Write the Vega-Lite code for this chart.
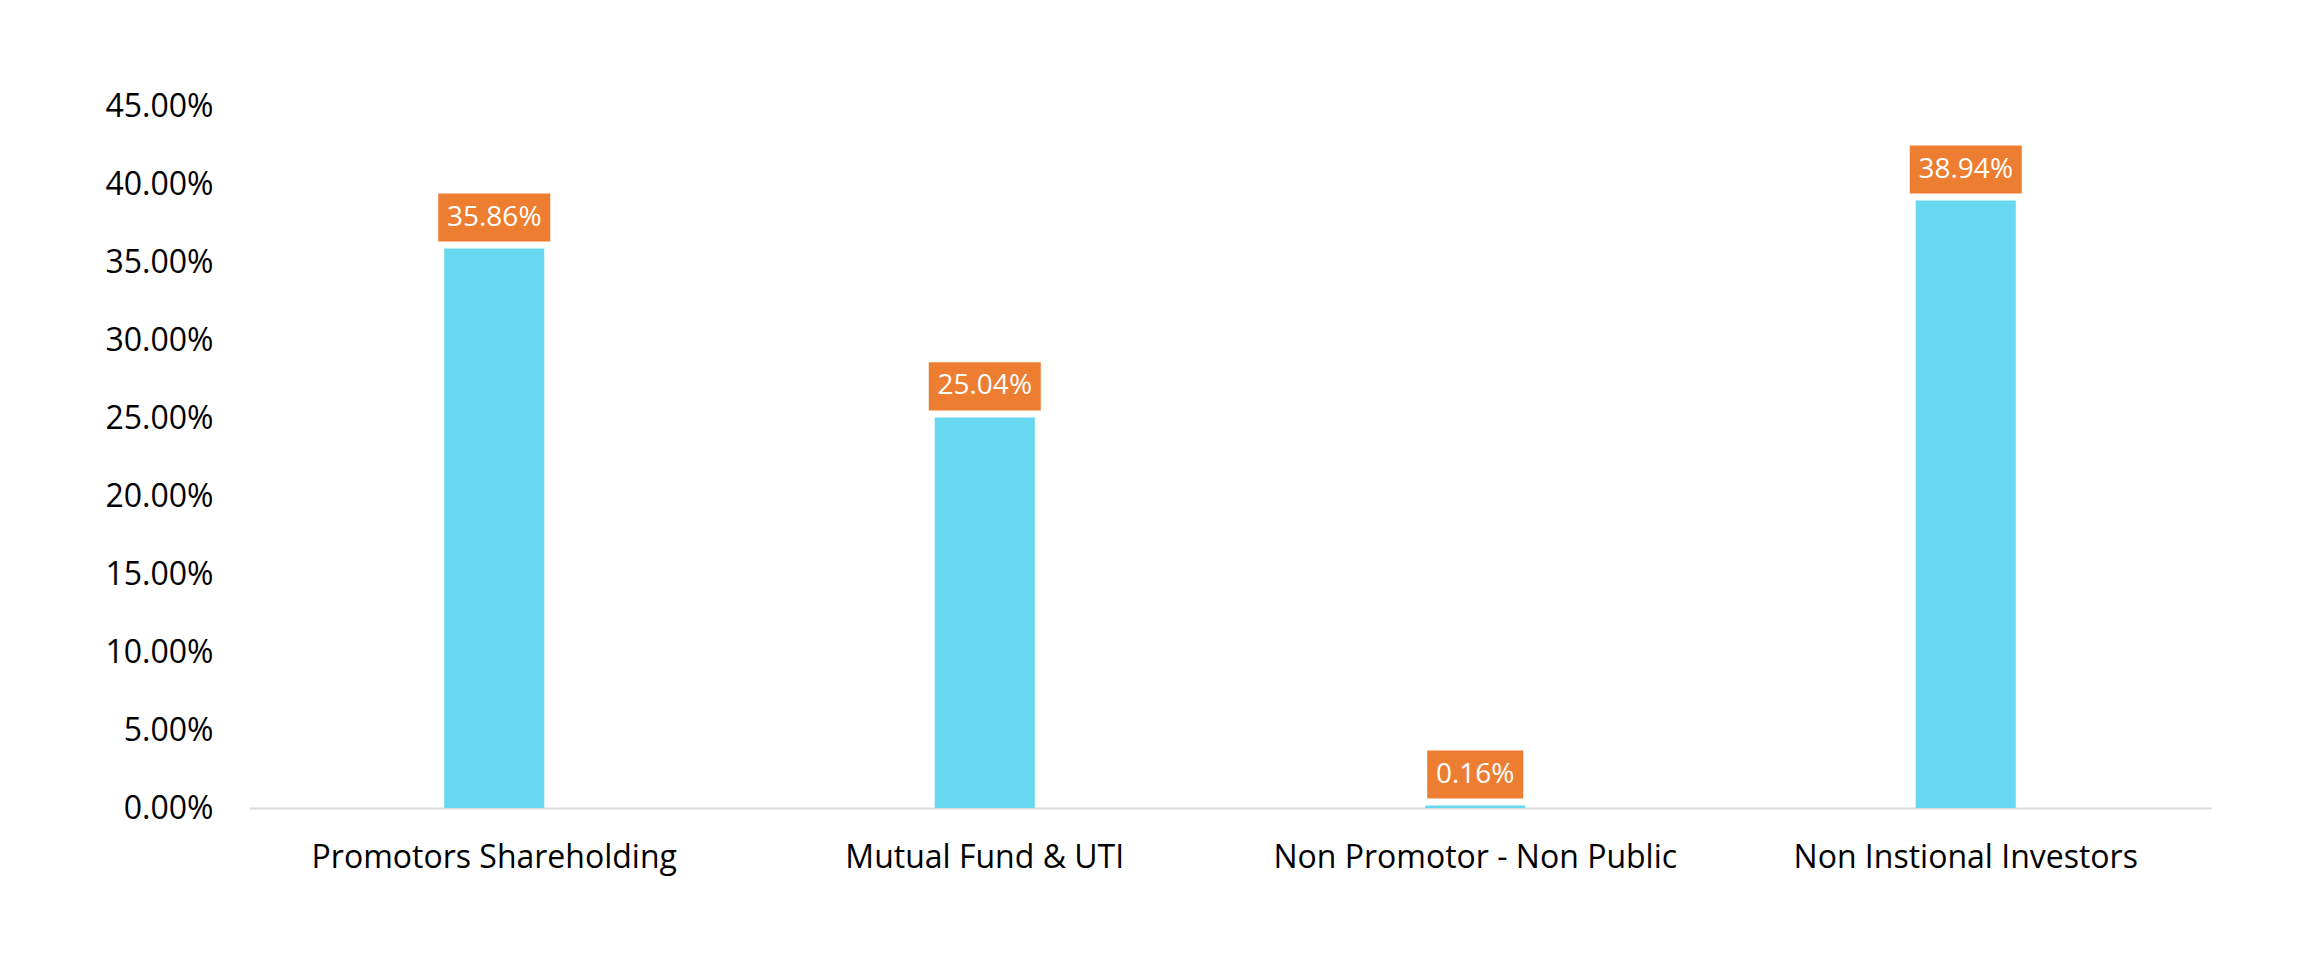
{
  "$schema": "https://vega.github.io/schema/vega-lite/v6.json",
  "width": 1962,
  "height": 702,
  "autosize": {"type": "none"},
  "padding": {"left": 249, "top": 106, "right": 89, "bottom": 153},
  "background": "white",
  "config": {"view": {"stroke": null}, "font": "Open Sans"},
  "data": {"values": [
    {"category": "Promotors Shareholding", "value": 0.3586},
    {"category": "Mutual Fund & UTI", "value": 0.2504},
    {"category": "Non Promotor - Non Public", "value": 0.0016},
    {"category": "Non Instional Investors", "value": 0.3894}
  ]},
  "encoding": {
    "x": {
      "field": "category", "type": "nominal", "sort": null,
      "scale": {"paddingInner": 0.796, "paddingOuter": 0.398},
      "axis": {"title": null, "labelAngle": 0, "labelFontSize": 32, "labelLimit": 0, "labelColor": "#000000", "labelPadding": 34, "ticks": false, "domainColor": "#D9D9D9", "domainWidth": 2, "labelFont": "Open Sans"}
    },
    "y": {
      "field": "value", "type": "quantitative",
      "scale": {"domain": [0, 0.45], "nice": false},
      "axis": {"title": null, "values": [0, 0.05, 0.1, 0.15, 0.2, 0.25, 0.3, 0.35, 0.4, 0.45], "format": ".2%", "grid": false, "domain": false, "ticks": false, "labelFontSize": 32, "labelColor": "#000000", "labelPadding": 36, "labelFont": "Open Sans"}
    }
  },
  "layer": [
    {"mark": {"type": "bar", "color": "#68D8F0"}},
    {
      "mark": {"type": "point", "filled": true, "opacity": 1, "color": "#ED7D31", "size": 12544, "yOffset": -31, "strokeWidth": 0},
      "encoding": {
        "shape": {
          "condition": {"test": "datum.value < 0.01", "value": "M-0.857,-0.4286L0.857,-0.4286L0.857,0.4286L-0.857,0.4286Z"},
          "value": "M-1,-0.4286L1,-0.4286L1,0.4286L-1,0.4286Z"
        }
      }
    },
    {
      "mark": {"type": "text", "color": "#FFFFFF", "fontSize": 28, "baseline": "middle", "align": "center", "yOffset": -31, "font": "Open Sans"},
      "encoding": {"text": {"field": "value", "type": "quantitative", "format": ".2%"}}
    }
  ]
}
